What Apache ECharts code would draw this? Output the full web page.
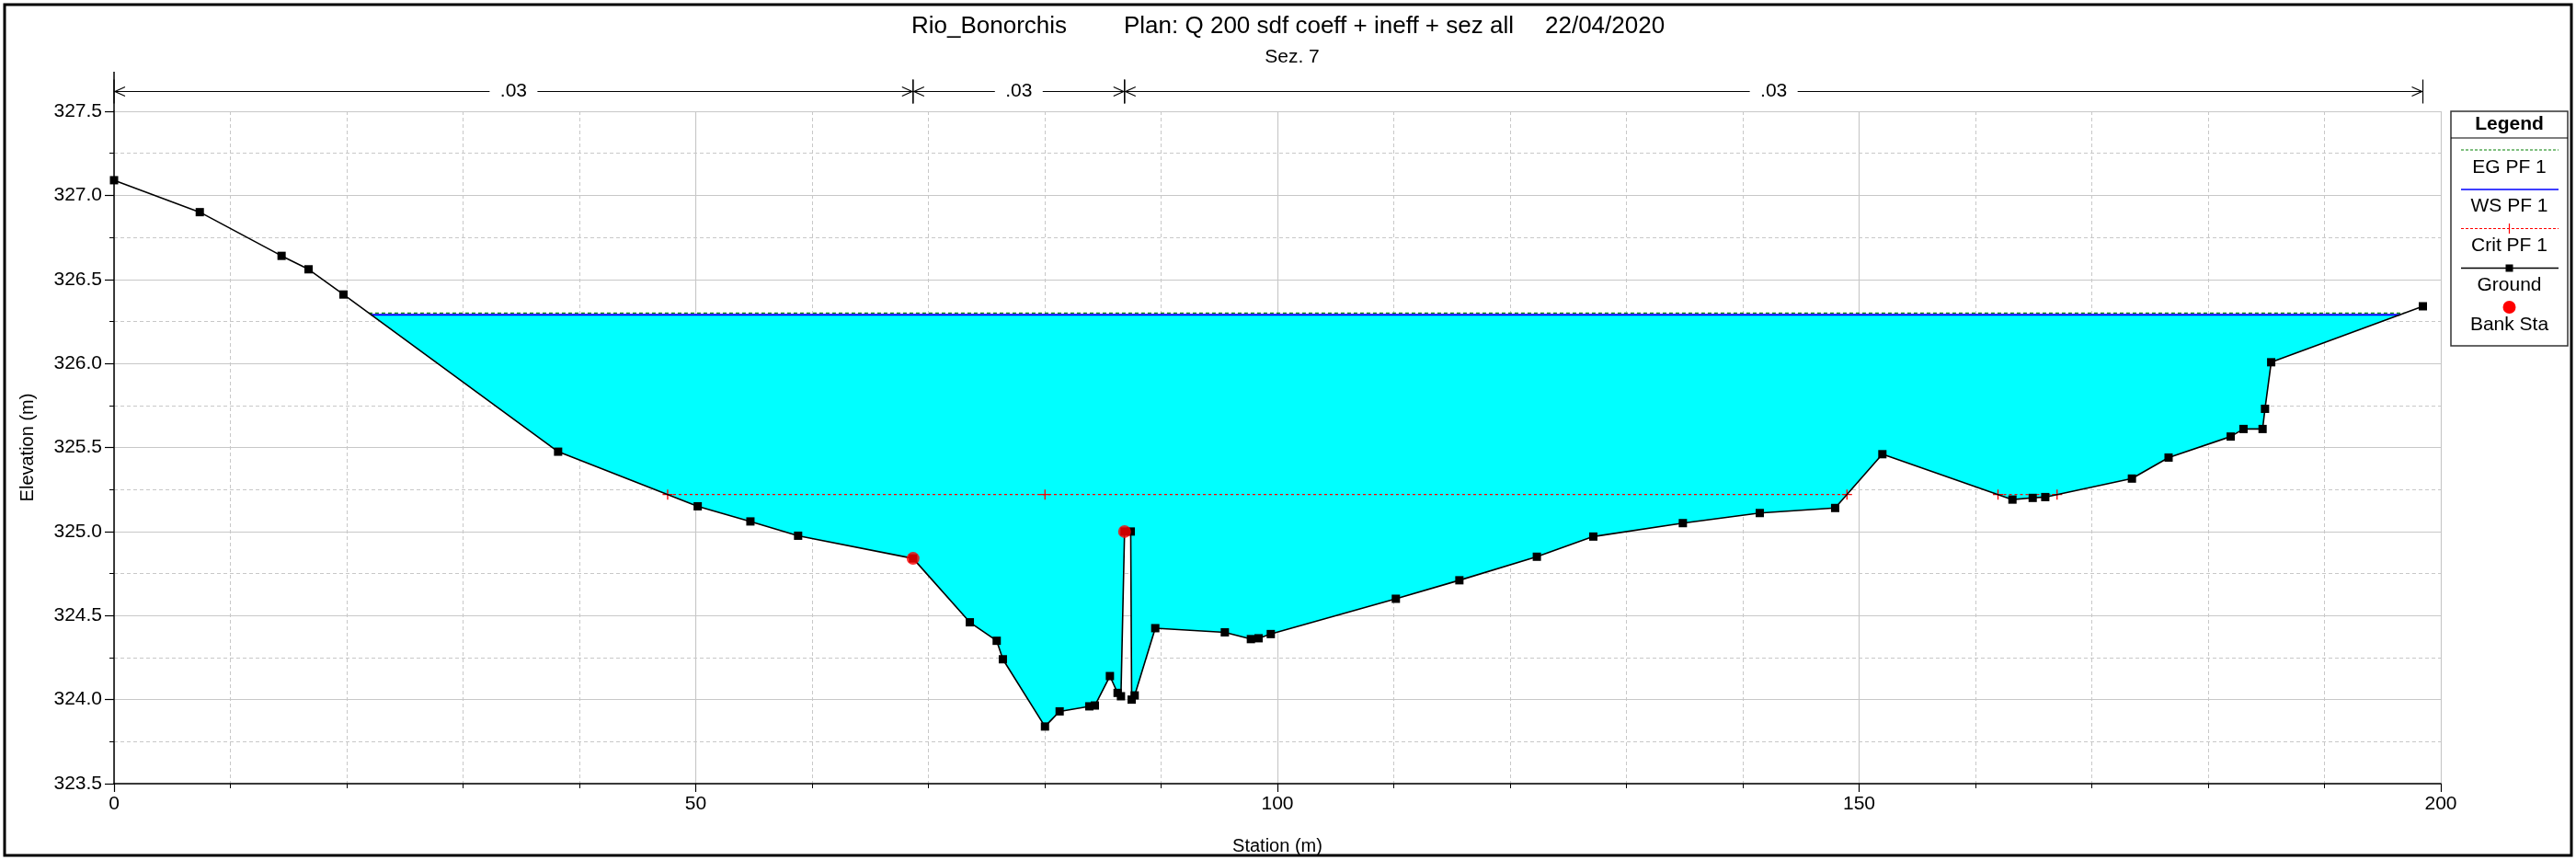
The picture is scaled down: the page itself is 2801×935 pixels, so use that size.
<!DOCTYPE html>
<html><head><meta charset="utf-8">
<script src="https://cdn.jsdelivr.net/npm/echarts@6/dist/echarts.min.js"></script>
<style>html,body{margin:0;padding:0;background:#fff}#c{width:2801px;height:935px}</style>
</head><body><div id="c"></div>
<script>
// ---------------- data ----------------
const riverName = 'Rio_Bonorchis';
const planName = 'Plan: Q 200 sdf coeff + ineff + sez all';
const planDate = '22/04/2020';
const sectionName = 'Sez. 7';

const groundSta = [0, 7.37, 14.40, 16.72, 19.72, 38.17, 50.17, 54.7, 58.8, 68.68,
  73.56, 75.87, 76.4, 80.02, 81.28, 83.83, 84.31, 85.6, 86.26, 86.55,
  86.86, 87.39, 87.47, 87.73, 89.5, 95.48, 97.72, 98.38, 99.43, 110.18,
  115.64, 122.3, 127.15, 134.85, 141.46, 147.94, 152.0, 163.18, 164.92, 166.0,
  173.45, 176.6, 181.94, 183.04, 184.68, 184.89, 185.42, 198.46];
const groundElev = [327.09, 326.90, 326.64, 326.56, 326.41, 325.475, 325.15, 325.06, 324.975, 324.84,
  324.46, 324.35, 324.24, 323.84, 323.93, 323.96, 323.965, 324.14, 324.04, 324.02,
  325.0, 325.0, 324.0, 324.025, 324.425, 324.40, 324.36, 324.365, 324.39, 324.60,
  324.71, 324.85, 324.97, 325.05, 325.11, 325.14, 325.46, 325.19, 325.20, 325.205,
  325.315, 325.44, 325.565, 325.61, 325.61, 325.73, 326.007, 326.34];
const bankSta = [68.68, 86.86];
const bankElev = [324.84, 325.0];
const egElev = 326.30;
const wsElev = 326.29;
const critElev = 325.22;
const manningN = ['.03', '.03', '.03'];
const xAxisRange = [0, 200, 50];      // min, max, interval
const yAxisRange = [323.5, 327.5, 0.5];
const legendNames = ['EG PF 1', 'WS PF 1', 'Crit PF 1', 'Ground', 'Bank Sta'];

// ---------------- helpers ----------------
const ground = groundSta.map((s, i) => [s, groundElev[i]]);
function belowSegments(level) {
  const segs = []; let start = null;
  for (let i = 0; i < ground.length - 1; i++) {
    const [s0, e0] = ground[i], [s1, e1] = ground[i + 1];
    if (e0 >= level && e1 < level) start = s0 + (e0 - level) / (e0 - e1) * (s1 - s0);
    if (e0 < level && e1 >= level && start !== null) {
      segs.push([start, s0 + (level - e0) / (e1 - e0) * (s1 - s0)]); start = null;
    }
  }
  return segs;
}
const wsSegs = belowSegments(wsElev);
const egSegs = belowSegments(egElev);
const critSegs = belowSegments(critElev);
let thalweg = ground[0];
ground.forEach(p => { if (p[1] < thalweg[1]) thalweg = p; });

const waterPolys = wsSegs.map(([a, b]) => {
  const pts = [[a, wsElev]];
  ground.forEach(p => { if (p[0] > a && p[0] < b) pts.push(p); });
  pts.push([b, wsElev]);
  return pts;
});
const nBounds = [groundSta[0], ...bankSta, groundSta[groundSta.length - 1]];
const nSegData = manningN.map((n, i) => [nBounds[i], nBounds[i + 1]]);

const FONT = "'Liberation Sans', Arial, sans-serif";
const PLUS = 'path://M4.4,0h1.2v10h-1.2z M0,4.4h10v1.2h-10z';
const GRID = '#c8c8c8';

const series = [];
series.push({
  type: 'custom', name: 'water', z: 1, silent: true,
  data: waterPolys.map((p, i) => [i, 0]),
  renderItem: (params, api) => ({
    type: 'polygon',
    shape: { points: waterPolys[params.dataIndex].map(p => api.coord(p)) },
    style: { fill: '#00ffff' }
  })
});
egSegs.forEach(([a, b]) => series.push({
  type: 'line', name: legendNames[0], z: 3, silent: true, symbol: 'none',
  data: [[a, egElev], [b, egElev]],
  lineStyle: { color: '#008000', width: 1.2, type: [4, 3] }
}));
wsSegs.forEach(([a, b]) => series.push({
  type: 'line', name: legendNames[1], z: 2, silent: true, symbol: 'none',
  data: [[a, wsElev], [b, wsElev]],
  lineStyle: { color: '#0000ff', width: 2 }
}));
critSegs.forEach(([a, b]) => {
  const pts = [[a, critElev]];
  if (thalweg[0] > a && thalweg[0] < b) pts.push([thalweg[0], critElev]);
  pts.push([b, critElev]);
  series.push({
    type: 'line', name: legendNames[2], z: 4, silent: true,
    data: pts, symbol: PLUS, symbolSize: 11, showSymbol: true,
    itemStyle: { color: '#ff0000' },
    lineStyle: { color: '#ff0000', width: 1.2, type: [3, 3] }
  });
});
series.push({
  type: 'line', name: legendNames[3], z: 5, silent: true,
  data: ground, symbol: 'rect', symbolSize: 9, showAllSymbol: true,
  itemStyle: { color: '#000' },
  lineStyle: { color: '#000', width: 1.6 }
});
series.push({
  type: 'scatter', name: legendNames[4], z: 6, silent: true,
  data: bankSta.map((s, i) => [s, bankElev[i]]),
  symbol: 'circle', symbolSize: 14, itemStyle: { color: '#ff0000' }
});
// Manning n row above the plot
series.push({
  type: 'custom', name: 'manning', z: 6, silent: true, clip: false,
  data: nSegData,
  renderItem: (params, api) => {
    const top = api.coord([api.value(0), yAxisRange[1]]);
    const x0 = top[0], x1 = api.coord([api.value(1), yAxisRange[1]])[0];
    const y = top[1] - 21.5;
    const xm = (x0 + x1) / 2, gap = 26;
    const st = { stroke: '#000', lineWidth: 1.2, fill: null };
    return {
      type: 'group', children: [
        { type: 'line', shape: { x1: x0, y1: y, x2: xm - gap, y2: y }, style: st },
        { type: 'line', shape: { x1: xm + gap, y1: y, x2: x1, y2: y }, style: st },
        { type: 'polyline', shape: { points: [[x0 + 12, y - 5], [x0 + 1, y], [x0 + 12, y + 5]] }, style: st },
        { type: 'polyline', shape: { points: [[x1 - 12, y - 5], [x1 - 1, y], [x1 - 12, y + 5]] }, style: st },
        { type: 'line', shape: { x1: x0, y1: y - 13, x2: x0, y2: y + 13 }, style: st },
        { type: 'line', shape: { x1: x1, y1: y - 13, x2: x1, y2: y + 13 }, style: st },
        { type: 'text', x: xm, y: y, style: { text: manningN[params.dataIndex], align: 'center', verticalAlign: 'middle', fontSize: 21, fontFamily: FONT, fill: '#000' } }
      ]
    };
  }
});

// ---------------- legend & frame graphics ----------------
const lgX = 2665, lgW = 127, lgY = 121, lgH = 255, lcx = lgX + lgW / 2;
const lx1 = 2676, lx2 = 2782;
const txt = (t, x, y, extra) => Object.assign({ type: 'text', x, y, silent: true,
  style: Object.assign({ text: t, align: 'center', verticalAlign: 'middle', fontSize: 21, fontFamily: FONT, fill: '#000' }, extra || {}) });
const graphic = [
  { type: 'rect', silent: true, shape: { x: 5, y: 5, width: 2791, height: 925 }, style: { fill: null, stroke: '#000', lineWidth: 3 } },
  txt(riverName, 991, 29, { align: 'left', fontSize: 26 }),
  txt(planName, 1222, 29, { align: 'left', fontSize: 26 }),
  txt(planDate, 1680, 29, { align: 'left', fontSize: 26 }),
  txt(sectionName, 1405, 62, { fontSize: 21 }),
  { type: 'rect', silent: true, shape: { x: lgX, y: lgY, width: lgW, height: lgH }, style: { fill: '#fff', stroke: '#333', lineWidth: 1.5 } },
  txt('Legend', lcx, 135, { fontWeight: 'bold' }),
  { type: 'line', silent: true, shape: { x1: lgX, y1: 150, x2: lgX + lgW, y2: 150 }, style: { stroke: '#000', lineWidth: 1.2 } },
  { type: 'line', silent: true, shape: { x1: lx1, y1: 163, x2: lx2, y2: 163 }, style: { stroke: '#008000', lineWidth: 1.2, lineDash: [3, 2] } },
  txt(legendNames[0], lcx, 182),
  { type: 'line', silent: true, shape: { x1: lx1, y1: 206, x2: lx2, y2: 206 }, style: { stroke: '#0000ff', lineWidth: 1.5 } },
  txt(legendNames[1], lcx, 224.5),
  { type: 'line', silent: true, shape: { x1: lx1, y1: 248.5, x2: lx2, y2: 248.5 }, style: { stroke: '#ff0000', lineWidth: 1.2, lineDash: [3, 2] } },
  { type: 'line', silent: true, shape: { x1: lcx, y1: 243, x2: lcx, y2: 254 }, style: { stroke: '#ff0000', lineWidth: 1.2 } },
  txt(legendNames[2], lcx, 267),
  { type: 'line', silent: true, shape: { x1: lx1, y1: 291.5, x2: lx2, y2: 291.5 }, style: { stroke: '#000', lineWidth: 1.5 } },
  { type: 'rect', silent: true, shape: { x: lcx - 4, y: 287.5, width: 8, height: 8 }, style: { fill: '#000' } },
  txt(legendNames[3], lcx, 310),
  { type: 'circle', silent: true, shape: { cx: lcx, cy: 334, r: 7 }, style: { fill: '#ff0000' } },
  txt(legendNames[4], lcx, 353)
];

const chart = echarts.init(document.getElementById('c'), null, { renderer: 'canvas' });
chart.setOption({
  animation: false,
  backgroundColor: '#fff',
  grid: { left: 124, right: 147, top: 121, bottom: 80, containLabel: false },
  xAxis: {
    type: 'value', min: xAxisRange[0], max: xAxisRange[1], interval: xAxisRange[2],
    name: 'Station (m)', nameLocation: 'middle', nameGap: 58,
    nameTextStyle: { fontSize: 20, fontFamily: FONT, color: '#000' },
    axisLine: { onZero: false, lineStyle: { color: '#000', width: 1.5 } },
    axisTick: { show: true, length: 9, lineStyle: { color: '#000', width: 1.2 } },
    minorTick: { show: true, splitNumber: 5, length: 5, lineStyle: { color: '#000', width: 1 } },
    axisLabel: { fontSize: 21, fontFamily: FONT, color: '#000', margin: 12 },
    splitLine: { show: true, lineStyle: { color: GRID, width: 1.2 } },
    minorSplitLine: { show: true, lineStyle: { color: GRID, width: 1, type: [4, 3] } }
  },
  yAxis: {
    type: 'value', min: yAxisRange[0], max: yAxisRange[1], interval: yAxisRange[2],
    name: 'Elevation (m)', nameLocation: 'middle', nameGap: 84,
    nameTextStyle: { fontSize: 20, fontFamily: FONT, color: '#000' },
    axisLine: { show: true, onZero: false, lineStyle: { color: '#000', width: 1.5 } },
    axisTick: { show: true, length: 10, lineStyle: { color: '#000', width: 1.2 } },
    minorTick: { show: true, splitNumber: 2, length: 5, lineStyle: { color: '#000', width: 1 } },
    axisLabel: { fontSize: 21, fontFamily: FONT, color: '#000', margin: 13, formatter: v => v.toFixed(1) },
    splitLine: { show: true, lineStyle: { color: GRID, width: 1.2 } },
    minorSplitLine: { show: true, lineStyle: { color: GRID, width: 1, type: [4, 3] } }
  },
  series: series,
  graphic: graphic
});
// extend the y axis line up to the Manning n row
const axTop = chart.convertToPixel({ gridIndex: 0 }, [xAxisRange[0], yAxisRange[1]]);
chart.setOption({ graphic: graphic.concat([{ type: 'line', silent: true,
  shape: { x1: axTop[0], y1: axTop[1] - 43, x2: axTop[0], y2: axTop[1] },
  style: { stroke: '#000', lineWidth: 1.5 } }]) });
</script></body></html>
